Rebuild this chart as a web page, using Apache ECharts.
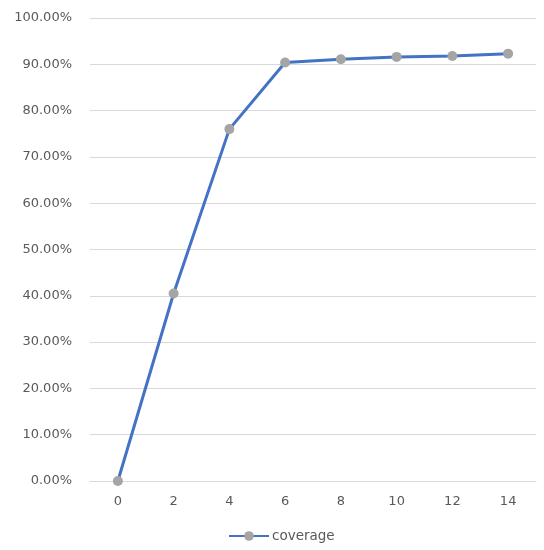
<!DOCTYPE html>
<html><head><meta charset="utf-8">
<script src="https://cdn.jsdelivr.net/npm/echarts@6/dist/echarts.min.js"></script>
<style>html,body{margin:0;padding:0;background:#fff}#c{width:544px;height:550px}</style>
</head><body><div id="c"></div>
<script>
var categories = ['0','2','4','6','8','10','12','14'];
var coverage = [0, 40.5, 76.0, 90.4, 91.1, 91.6, 91.8, 92.3];
var seriesName = 'coverage';

var chart = echarts.init(document.getElementById('c'), null, {renderer:'canvas'});
chart.setOption({
  animation:false,
  backgroundColor:'#fff',
  textStyle:{fontFamily:'DejaVu Sans'},
  grid:{left:90,right:8,top:18,bottom:69,containLabel:false},
  legend:{
    data:[seriesName], left:223, top:524,
    itemWidth:40, itemHeight:12, itemGap:4,
    textStyle:{color:'#595959',fontSize:13.5,fontFamily:'DejaVu Sans',padding:[0,0,0,-2]}
  },
  xAxis:{
    type:'category', data:categories, boundaryGap:true,
    axisLine:{lineStyle:{color:'#d9d9d9',width:1}},
    axisTick:{show:false},
    axisLabel:{color:'#595959',fontSize:13,margin:14,fontFamily:'DejaVu Sans'}
  },
  yAxis:{
    type:'value', min:0, max:100, interval:10,
    axisLine:{show:false}, axisTick:{show:false},
    splitLine:{lineStyle:{color:'#d9d9d9',width:1}},
    axisLabel:{color:'#595959',fontSize:13,margin:18,fontFamily:'DejaVu Sans',
      formatter:function(v){return v.toFixed(2)+'%';}}
  },
  series:[{
    name:seriesName, type:'line', data:coverage,
    lineStyle:{color:'#4472C4',width:3},
    itemStyle:{color:'#A5A5A5'},
    symbol:'circle', symbolSize:10, showAllSymbol:true
  }]
});
</script></body></html>
